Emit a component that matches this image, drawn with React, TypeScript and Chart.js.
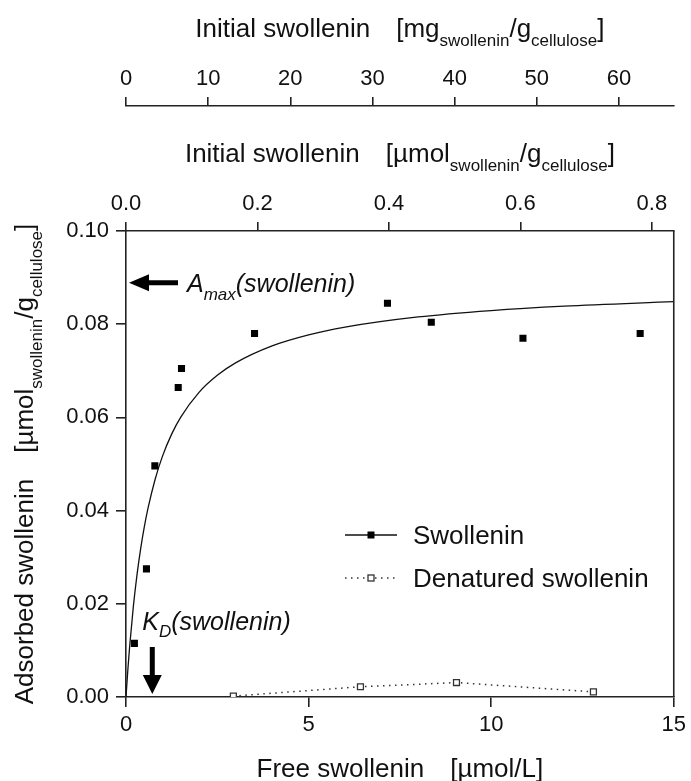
import React, { useEffect, useRef } from 'react';
import { Chart, registerables } from 'chart.js';

Chart.register(...registerables);

const FONT = '"Liberation Sans", Arial, Helvetica, sans-serif';
const AX = '#222222';
const TXT = '#111111';

// Swollenin (measured, filled squares)
const swollFree = [0.23, 0.56, 0.79, 1.43, 1.52, 3.52, 7.16, 8.36, 10.87, 14.08];
const swollAds = [0.0115, 0.0275, 0.0496, 0.0664, 0.0705, 0.078, 0.0845, 0.0804, 0.077, 0.078];

// Denatured swollenin (open squares, dotted)
const denFree = [2.94, 6.42, 9.05, 12.8];
const denAds = [0.0002, 0.0022, 0.0031, 0.0011];

// Fitted curve
const fitFree = [0, 0.05, 0.1, 0.2, 0.3, 0.4, 0.5, 0.6, 0.8, 1.0, 1.25, 1.5, 2.0, 2.5, 3.0, 4.0, 5.0, 6.0, 8.0, 10.0, 12.0, 15.0];
const fitAds = [0, 0.00577, 0.01084, 0.01933, 0.02615, 0.03175, 0.03643, 0.04041, 0.04679, 0.05169, 0.05641, 0.06007, 0.06537, 0.06902, 0.07169, 0.07534, 0.07771, 0.07938, 0.08156, 0.08293, 0.08387, 0.08483];

// Axis ranges and ticks
const X_MAX = 15;
const UMOL_MAX = 0.8333;
const MG_MAX = 66.67;
const Y_MAX = 0.1;
const bottomTicks = [0, 5, 10, 15];
const yTicks = [0, 0.02, 0.04, 0.06, 0.08, 0.1];
const umolTicks = [0, 0.2, 0.4, 0.6, 0.8];
const mgTicks = [0, 10, 20, 30, 40, 50, 60];

// Annotations
const AMAX = 0.0889;
const KD = 0.72;

type Part = { t?: string; sub?: boolean; gap?: number };

function drawRich(
  ctx: CanvasRenderingContext2D,
  parts: Part[],
  x: number,
  baseline: number,
  size: number,
  subSize: number,
  subDy: number,
  italic: boolean,
  align: 'center' | 'left'
) {
  const f = (s: number) => `${italic ? 'italic ' : ''}${s}px ${FONT}`;
  let total = 0;
  for (const p of parts) {
    if (p.gap) { total += p.gap; continue; }
    ctx.font = f(p.sub ? subSize : size);
    total += ctx.measureText(p.t || '').width;
  }
  let cx = align === 'center' ? x - total / 2 : x;
  ctx.textAlign = 'left';
  ctx.textBaseline = 'alphabetic';
  for (const p of parts) {
    if (p.gap) { cx += p.gap; continue; }
    ctx.font = f(p.sub ? subSize : size);
    ctx.fillText(p.t || '', cx, baseline + (p.sub ? subDy : 0));
    cx += ctx.measureText(p.t || '').width;
  }
}

const decorPlugin = {
  id: 'decor',
  afterDraw(chart: any) {
    const ctx: CanvasRenderingContext2D = chart.ctx;
    const { left, right, top, bottom } = chart.chartArea;
    const xs = chart.scales.x;
    const ys = chart.scales.y;
    const midX = (left + right) / 2;
    ctx.save();

    // right frame line
    ctx.strokeStyle = AX;
    ctx.lineWidth = 1.6;
    ctx.beginPath();
    ctx.moveTo(right, top);
    ctx.lineTo(right, bottom);
    ctx.stroke();

    ctx.fillStyle = TXT;
    // titles
    drawRich(ctx, [
      { t: 'Initial swollenin' }, { gap: 26 }, { t: '[mg' }, { t: 'swollenin', sub: true }, { t: '/g' }, { t: 'cellulose', sub: true }, { t: ']' },
    ], midX, 37, 26, 17, 9, false, 'center');
    drawRich(ctx, [
      { t: 'Initial swollenin' }, { gap: 26 }, { t: '[\u00b5mol' }, { t: 'swollenin', sub: true }, { t: '/g' }, { t: 'cellulose', sub: true }, { t: ']' },
    ], midX, 162, 26, 17, 9, false, 'center');
    drawRich(ctx, [
      { t: 'Free swollenin' }, { gap: 26 }, { t: '[\u00b5mol/L]' },
    ], midX, 777, 26, 17, 9, false, 'center');
    ctx.save();
    ctx.translate(33, (top + bottom) / 2);
    ctx.rotate(-Math.PI / 2);
    drawRich(ctx, [
      { t: 'Adsorbed swollenin' }, { gap: 26 }, { t: '[\u00b5mol' }, { t: 'swollenin', sub: true }, { t: '/g' }, { t: 'cellulose', sub: true }, { t: ']' },
    ], 0, 0, 26, 17, 9, false, 'center');
    ctx.restore();

    // A_max arrow (pointing left to the y axis)
    const ay = ys.getPixelForValue(AMAX);
    const tipX = left + 3;
    ctx.fillStyle = '#000';
    ctx.beginPath();
    ctx.moveTo(tipX, ay);
    ctx.lineTo(tipX + 20, ay - 8.5);
    ctx.lineTo(tipX + 20, ay - 2.5);
    ctx.lineTo(tipX + 49, ay - 2.5);
    ctx.lineTo(tipX + 49, ay + 2.5);
    ctx.lineTo(tipX + 20, ay + 2.5);
    ctx.lineTo(tipX + 20, ay + 8.5);
    ctx.closePath();
    ctx.fill();
    ctx.fillStyle = TXT;
    drawRich(ctx, [{ t: 'A' }, { t: 'max', sub: true }, { t: '(swollenin)' }], tipX + 58, ay + 9, 25, 17, 8, true, 'left');

    // K_D arrow (pointing down to the x axis)
    const kx = xs.getPixelForValue(KD);
    const tipY = bottom - 3;
    ctx.fillStyle = '#000';
    ctx.beginPath();
    ctx.moveTo(kx, tipY);
    ctx.lineTo(kx - 9.5, tipY - 19);
    ctx.lineTo(kx - 2.5, tipY - 19);
    ctx.lineTo(kx - 2.5, tipY - 47);
    ctx.lineTo(kx + 2.5, tipY - 47);
    ctx.lineTo(kx + 2.5, tipY - 19);
    ctx.lineTo(kx + 9.5, tipY - 19);
    ctx.closePath();
    ctx.fill();
    ctx.fillStyle = TXT;
    drawRich(ctx, [{ t: 'K' }, { t: 'D', sub: true }, { t: '(swollenin)' }], kx - 10, tipY - 64, 25, 17, 7, true, 'left');

    // legend
    const lx0 = 345, lx1 = 397, lmx = 371, tx = 413;
    const ly1 = 535, ly2 = 578;
    ctx.strokeStyle = '#111';
    ctx.lineWidth = 1.3;
    ctx.setLineDash([]);
    ctx.beginPath();
    ctx.moveTo(lx0, ly1);
    ctx.lineTo(lx1, ly1);
    ctx.stroke();
    ctx.fillStyle = '#000';
    ctx.fillRect(lmx - 3.5, ly1 - 3.5, 7, 7);
    ctx.strokeStyle = '#333';
    ctx.lineWidth = 1.5;
    ctx.setLineDash([1.5, 4.5]);
    ctx.beginPath();
    ctx.moveTo(lx0, ly2);
    ctx.lineTo(lx1, ly2);
    ctx.stroke();
    ctx.setLineDash([]);
    ctx.fillStyle = '#fff';
    ctx.fillRect(lmx - 3, ly2 - 3, 6, 6);
    ctx.lineWidth = 1.3;
    ctx.strokeStyle = '#333';
    ctx.strokeRect(lmx - 3, ly2 - 3, 6, 6);
    ctx.fillStyle = TXT;
    ctx.font = `26px ${FONT}`;
    ctx.textAlign = 'left';
    ctx.textBaseline = 'alphabetic';
    ctx.fillText('Swollenin', tx, ly1 + 9);
    ctx.fillText('Denatured swollenin', tx, ly2 + 9);

    ctx.restore();
  },
};

function tickFont() {
  return { family: FONT, size: 22 };
}

export default function App() {
  const ref = useRef<HTMLCanvasElement>(null);

  useEffect(() => {
    const canvas = ref.current;
    if (!canvas) return;
    const chart = new Chart(canvas, {
      type: 'scatter',
      data: {
        datasets: [
          {
            label: 'Swollenin',
            data: swollFree.map((x, i) => ({ x, y: swollAds[i] })),
            showLine: false,
            pointStyle: 'rect',
            pointRadius: 5,
            backgroundColor: '#000',
            borderColor: '#000',
            borderWidth: 0,
            xAxisID: 'x',
            yAxisID: 'y',
          },
          {
            label: 'Denatured swollenin',
            data: denFree.map((x, i) => ({ x, y: denAds[i] })),
            showLine: true,
            borderColor: '#333',
            borderWidth: 1.5,
            borderDash: [1.5, 4.5],
            pointStyle: 'rect',
            pointRadius: 4.2,
            pointBackgroundColor: '#fff',
            pointBorderColor: '#333',
            pointBorderWidth: 1.3,
            xAxisID: 'x',
            yAxisID: 'y',
          },
          {
            label: 'Fit',
            data: fitFree.map((x, i) => ({ x, y: fitAds[i] })),
            showLine: true,
            pointRadius: 0,
            borderColor: '#111',
            borderWidth: 1.3,
            cubicInterpolationMode: 'monotone',
            xAxisID: 'x',
            yAxisID: 'y',
          },
        ],
      } as any,
      options: {
        responsive: false,
        devicePixelRatio: 1,
        animation: false,
        events: [],
        layout: { padding: { left: 0, right: 15, top: 0, bottom: 0 } },
        plugins: { legend: { display: false }, tooltip: { enabled: false }, title: { display: false } },
        scales: {
          x: {
            type: 'linear',
            position: 'bottom',
            min: 0,
            max: X_MAX,
            afterBuildTicks: (s: any) => { s.ticks = bottomTicks.map((v) => ({ value: v })); },
            afterFit: (s: any) => { s.height = 84; },
            ticks: { color: TXT, font: tickFont(), padding: 5, maxRotation: 0, autoSkip: false, callback: (v: any) => String(v) },
            grid: { display: true, drawOnChartArea: false, drawTicks: true, tickLength: 10, color: AX, lineWidth: 1.6 },
            border: { display: true, color: AX, width: 1.6 },
          },
          x1: {
            type: 'linear',
            position: 'top',
            weight: 0,
            min: 0,
            max: UMOL_MAX,
            afterBuildTicks: (s: any) => { s.ticks = umolTicks.map((v) => ({ value: v })); },
            afterFit: (s: any) => { s.height = 125; },
            ticks: { color: TXT, font: tickFont(), padding: 5, maxRotation: 0, autoSkip: false, callback: (v: any) => Number(v).toFixed(1) },
            grid: { display: true, drawOnChartArea: false, drawTicks: true, tickLength: 9, color: AX, lineWidth: 1.6 },
            border: { display: true, color: AX, width: 1.6 },
          },
          x2: {
            type: 'linear',
            position: 'top',
            weight: 1,
            min: 0,
            max: MG_MAX,
            afterBuildTicks: (s: any) => { s.ticks = mgTicks.map((v) => ({ value: v })); },
            afterFit: (s: any) => { s.height = 106; },
            ticks: { color: TXT, font: tickFont(), padding: 5, maxRotation: 0, autoSkip: false, callback: (v: any) => String(v) },
            grid: { display: true, drawOnChartArea: false, drawTicks: true, tickLength: 9, color: AX, lineWidth: 1.6 },
            border: { display: true, color: AX, width: 1.6 },
          },
          y: {
            type: 'linear',
            position: 'left',
            min: 0,
            max: Y_MAX,
            afterBuildTicks: (s: any) => { s.ticks = yTicks.map((v) => ({ value: v })); },
            afterFit: (s: any) => { s.width = 126; },
            ticks: { color: TXT, font: tickFont(), padding: 7, autoSkip: false, callback: (v: any) => Number(v).toFixed(2) },
            grid: { display: true, drawOnChartArea: false, drawTicks: true, tickLength: 10, color: AX, lineWidth: 1.6 },
            border: { display: true, color: AX, width: 1.6 },
          },
        },
      } as any,
      plugins: [decorPlugin],
    });
    return () => chart.destroy();
  }, []);

  return (
    <div style={{ position: 'fixed', left: 0, top: 0, width: 691, height: 781, background: '#fff' }}>
      <canvas ref={ref} width={691} height={781} style={{ width: 691, height: 781, display: 'block' }} />
    </div>
  );
}
